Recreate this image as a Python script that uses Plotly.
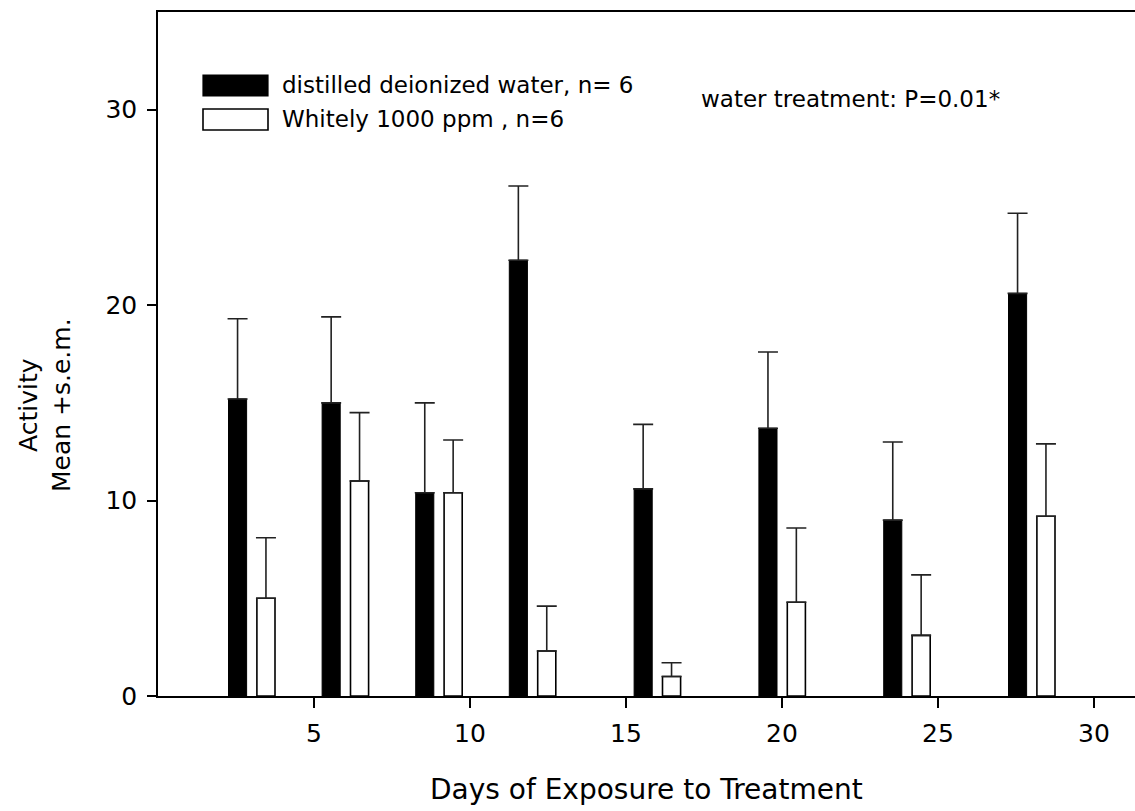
import plotly.graph_objects as go

# Days of exposure at which activity was scored
days = [3, 6, 9, 12, 16, 20, 24, 28]

# Distilled deionized water group: mean activity and s.e.m.
water_mean = [15.2, 15.0, 10.4, 22.3, 10.6, 13.7, 9.0, 20.6]
water_sem = [4.1, 4.4, 4.6, 3.8, 3.3, 3.9, 4.0, 4.1]

# Whitely 1000 ppm group: mean activity and s.e.m.
whitely_mean = [5.0, 11.0, 10.4, 2.3, 1.0, 4.8, 3.1, 9.2]
whitely_sem = [3.1, 3.5, 2.7, 2.3, 0.7, 3.8, 3.1, 3.7]

x_ticks = [5, 10, 15, 20, 25, 30]
y_ticks = [0, 10, 20, 30]

legend_labels = ["distilled deionized water, n= 6", "Whitely 1000 ppm , n=6"]
stat_note = "water treatment: P=0.01*"

FONT = "DejaVu Sans"
W, H = 1135, 811
ML, MR, MT, MB = 158, 0, 12, 115
PW, PH = W - ML - MR, H - MT - MB


def px_x(px):
    return (px - ML) / PW


def px_y(py):
    return (H - MB - py) / PH


zeros = [0] * len(days)

fig = go.Figure()
fig.add_trace(go.Bar(
    x=days, y=water_mean, name=legend_labels[0],
    offset=-0.74, width=0.58,
    marker=dict(color="black", line=dict(color="black", width=1)),
    error_y=dict(type="data", symmetric=False, array=water_sem,
                 arrayminus=zeros, color="#222222", thickness=1.6, width=10),
    showlegend=False,
))
fig.add_trace(go.Bar(
    x=days, y=whitely_mean, name=legend_labels[1],
    offset=0.17, width=0.58,
    marker=dict(color="white", line=dict(color="black", width=1.6)),
    error_y=dict(type="data", symmetric=False, array=whitely_sem,
                 arrayminus=zeros, color="#222222", thickness=1.6, width=10),
    showlegend=False,
))

# Hand-drawn legend keys (wide rectangles) with their labels
shapes = [
    dict(type="rect", xref="paper", yref="paper",
         x0=px_x(203), x1=px_x(268), y0=px_y(96), y1=px_y(75),
         fillcolor="black", line=dict(color="black", width=1.2)),
    dict(type="rect", xref="paper", yref="paper",
         x0=px_x(203), x1=px_x(268), y0=px_y(130), y1=px_y(109),
         fillcolor="white", line=dict(color="black", width=1.6)),
]

annotations = [
    dict(text=legend_labels[0], xref="paper", yref="paper",
         x=px_x(280), y=px_y(85), xanchor="left", yanchor="middle",
         showarrow=False, font=dict(family=FONT, size=23, color="black")),
    dict(text=legend_labels[1], xref="paper", yref="paper",
         x=px_x(280), y=px_y(119), xanchor="left", yanchor="middle",
         showarrow=False, font=dict(family=FONT, size=23, color="black")),
    dict(text=stat_note, xref="paper", yref="paper",
         x=px_x(699), y=px_y(99), xanchor="left", yanchor="middle",
         showarrow=False, font=dict(family=FONT, size=23, color="black")),
    dict(text="Days of Exposure to Treatment", xref="paper", yref="paper",
         x=0.5, y=px_y(790), xanchor="center", yanchor="middle",
         showarrow=False, font=dict(family=FONT, size=28, color="black")),
    dict(text="Activity<br>Mean +s.e.m.", xref="paper", yref="paper",
         x=px_x(45), y=px_y(405), xanchor="center", yanchor="middle",
         textangle=-90, showarrow=False,
         font=dict(family=FONT, size=25, color="black")),
]

fig.update_layout(
    width=W, height=H,
    margin=dict(l=ML, r=MR, t=MT, b=MB, pad=0),
    paper_bgcolor="white", plot_bgcolor="white",
    barmode="overlay",
    shapes=shapes,
    annotations=annotations,
    xaxis=dict(
        range=[0, PW / 31.2], tickvals=x_ticks,
        ticks="outside", ticklen=10, tickwidth=1.5, tickcolor="black",
        showline=True, linecolor="black", linewidth=1.5, mirror=True,
        showgrid=False, zeroline=False, ticklabelstandoff=4,
        tickfont=dict(family=FONT, size=25, color="black"),
    ),
    yaxis=dict(
        range=[0, 35], tickvals=y_ticks,
        ticks="outside", ticklen=9, tickwidth=1.5, tickcolor="black",
        showline=True, linecolor="black", linewidth=1.5, mirror=False,
        showgrid=False, zeroline=False, ticklabelstandoff=5,
        tickfont=dict(family=FONT, size=25, color="black"),
    ),
)

fig.write_html("out.html")
